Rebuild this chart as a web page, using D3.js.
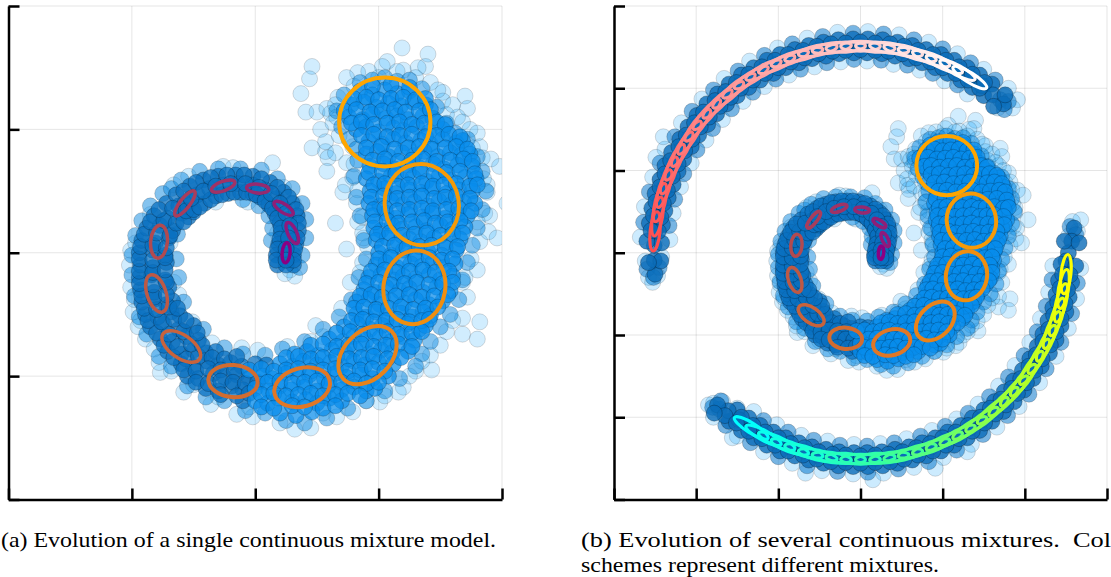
<!DOCTYPE html>
<html>
<head>
<meta charset="utf-8">
<script src="https://cdn.jsdelivr.net/npm/d3@7"></script>
<style>
  body { margin: 0; background: #fff; }
  svg { display: block; }
  .grid line { stroke: #000; stroke-opacity: 0.1; stroke-width: 1; }
  .axis path, .axis line { stroke: #000; stroke-width: 2.5; }
  .pt { stroke: #000; stroke-width: 1; }
  .caption { font-family: "Liberation Serif", serif; font-size: 21px; fill: #000; }
</style>
</head>
<body>
<svg id="chart" width="1111" height="577"></svg>
<script>
// Sample clouds (tick spacing = 1 unit)
const spiralWide = [
  [.85,1.31],[.95,1.28],[1.05,1.32],[1.15,1.29],[1.25,1.31],
  [.78,1.2],[.88,1.22],[.98,1.18],[1.08,1.21],[1.18,1.19],[1.28,1.22],[1.38,1.2],
  [.76,1.1],[.87,1.08],[.95,1.12],[1.06,1.09],[1.15,1.11],[1.24,1.08],[1.36,1.11],[1.44,1.09],
  [.82,1],[.9,1.02],[1,.98],[1.12,1.01],[1.2,.99],[1.31,1.02],[1.41,.98],[1.52,1],
  [.92,.9],[1.03,.88],[1.12,.92],[1.22,.89],[1.34,.91],[1.42,.88],[1.52,.92],[1.63,.89],[1.68,.91],
  [.9,.8],[.99,.82],[1.08,.78],[1.19,.81],[1.29,.79],[1.37,.82],[1.48,.78],[1.58,.81],[1.67,.79],[1.74,.8],
  [.93,.7],[1.04,.72],[1.13,.68],[1.24,.71],[1.33,.69],[1.44,.72],[1.53,.68],[1.64,.71],[1.76,.7],
  [.9,.6],[1,.58],[1.1,.62],[1.19,.59],[1.28,.61],[1.39,.58],[1.49,.62],[1.58,.59],[1.7,.61],[1.79,.6],
  [.93,.5],[1.05,.52],[1.14,.48],[1.25,.51],[1.34,.49],[1.43,.52],[1.55,.48],[1.65,.51],[1.76,.5],
  [.92,.4],[1.01,.38],[1.1,.42],[1.2,.39],[1.29,.41],[1.4,.38],[1.49,.42],[1.59,.39],[1.69,.41],[1.78,.4],
  [.95,.3],[1.06,.32],[1.14,.28],[1.24,.31],[1.35,.29],[1.44,.32],[1.54,.28],[1.64,.31],[1.72,.3],
  [.96,.2],[1.02,.18],[1.11,.22],[1.19,.19],[1.3,.21],[1.39,.18],[1.5,.22],[1.6,.19],[1.7,.21],
  [.98,.1],[1.07,.12],[1.16,.08],[1.25,.11],[1.34,.09],[1.45,.12],[1.54,.08],[1.66,.11],
  [1,0],[1.1,-.02],[1.2,.02],[1.29,-.01],[1.4,.01],[1.51,-.02],[1.63,.02],
  [.98,-.1],[1.06,-.08],[1.15,-.12],[1.26,-.09],[1.35,-.11],[1.44,-.08],[1.53,-.12],[1.62,-.09],
  [.92,-.2],[1.02,-.18],[1.12,-.22],[1.2,-.19],[1.3,-.21],[1.41,-.18],[1.5,-.22],[1.6,-.19],
  [.88,-.3],[.97,-.32],[1.06,-.28],[1.17,-.31],[1.25,-.29],[1.36,-.32],[1.47,-.28],[1.58,-.31],
  [.82,-.4],[.92,-.38],[1.01,-.42],[1.1,-.39],[1.21,-.41],[1.3,-.38],[1.41,-.42],[1.52,-.39],
  [.82,-.5],[.9,-.52],[.98,-.48],[1.07,-.51],[1.18,-.49],[1.27,-.52],[1.36,-.48],[1.42,-.51],
  [.72,-.6],[.83,-.58],[.93,-.62],[1.03,-.59],[1.12,-.61],[1.23,-.58],[1.33,-.62],[1.38,-.59],
  [.6,-.7],[.71,-.72],[.8,-.68],[.9,-.71],[1.01,-.69],[1.1,-.72],[1.19,-.68],[1.29,-.71],
  [.32,-.82],[.42,-.8],[.51,-.83],[.62,-.79],[.73,-.81],[.81,-.78],[.92,-.82],[1.02,-.79],[1.11,-.81],[1.24,-.8],
  [.2,-.9],[.3,-.92],[.39,-.88],[.5,-.91],[.61,-.89],[.7,-.92],[.8,-.88],[.89,-.91],[1,-.89],[1.12,-.9],
  [.06,-1],[.14,-1.02],[.25,-.98],[.35,-1.01],[.44,-.99],[.56,-1.02],[.65,-.98],[.74,-1.01],[.86,-.99],[.95,-1.02],[1.08,-1],
  [0,-1.1],[.11,-1.12],[.2,-1.08],[.29,-1.11],[.4,-1.09],[.5,-1.12],[.59,-1.08],[.7,-1.11],[.8,-1.09],[.9,-1.12],[.97,-1.1],
  [0,-1.2],[.1,-1.22],[.19,-1.18],[.3,-1.21],[.41,-1.19],[.5,-1.22],[.6,-1.18],[.7,-1.2],
  [.2,-1.3],[.33,-1.32],[.46,-1.29],
  [.95,1.35],[1.1,1.36],[1.25,1.34],
  [.8,1.25],[.9,1.26],[1,1.24],[1.1,1.25],[1.2,1.26],[1.3,1.24],[1.38,1.25],
  [.72,1.15],[.82,1.16],[.93,1.14],[1.03,1.15],[1.13,1.16],[1.22,1.14],[1.33,1.15],[1.42,1.16],
  [.78,1.05],[.86,1.06],[.96,1.04],[1.07,1.05],[1.17,1.06],[1.27,1.04],[1.37,1.05],[1.47,1.06],[1.54,1.04],
  [.86,.95],[.96,.96],[1.07,.94],[1.17,.95],[1.27,.96],[1.38,.94],[1.47,.95],[1.57,.96],[1.66,.94],
  [.9,.85],[1.02,.86],[1.13,.84],[1.24,.85],[1.33,.86],[1.43,.84],[1.54,.85],[1.63,.86],[1.72,.84],
  [.95,.75],[1.05,.76],[1.16,.74],[1.27,.75],[1.36,.76],[1.47,.74],[1.58,.75],[1.69,.76],[1.76,.74],
  [.92,.65],[1.03,.66],[1.14,.64],[1.24,.65],[1.34,.66],[1.45,.64],[1.55,.65],[1.66,.66],[1.78,.64],
  [.96,.55],[1.05,.56],[1.15,.54],[1.24,.55],[1.35,.56],[1.44,.54],[1.53,.55],[1.63,.56],[1.74,.54],[1.8,.55],
  [.94,.45],[1.04,.46],[1.15,.44],[1.25,.45],[1.35,.46],[1.45,.44],[1.54,.45],[1.63,.46],[1.74,.44],
  [.96,.35],[1.05,.36],[1.15,.34],[1.25,.35],[1.35,.36],[1.44,.34],[1.55,.35],[1.65,.36],[1.75,.34],
  [.97,.25],[1.07,.26],[1.16,.24],[1.27,.25],[1.37,.26],[1.46,.24],[1.56,.25],[1.66,.26],
  [.99,.15],[1.09,.16],[1.19,.14],[1.29,.15],[1.39,.16],[1.5,.14],[1.6,.15],[1.68,.16],
  [1.03,.05],[1.13,.06],[1.23,.04],[1.33,.05],[1.43,.06],[1.54,.04],[1.64,.05],
  [1,-.05],[1.1,-.04],[1.2,-.06],[1.3,-.05],[1.41,-.04],[1.51,-.06],[1.6,-.05],
  [.94,-.15],[1.05,-.14],[1.15,-.16],[1.25,-.15],[1.36,-.14],[1.46,-.16],[1.57,-.15],
  [.9,-.25],[1,-.24],[1.1,-.26],[1.21,-.25],[1.31,-.24],[1.41,-.26],[1.52,-.25],[1.6,-.24],
  [.85,-.35],[.94,-.34],[1.03,-.36],[1.14,-.35],[1.25,-.34],[1.35,-.36],[1.45,-.35],[1.56,-.34],
  [.8,-.45],[.88,-.44],[.98,-.46],[1.08,-.45],[1.18,-.44],[1.28,-.46],[1.38,-.45],[1.48,-.44],
  [.78,-.55],[.87,-.54],[.96,-.56],[1.06,-.55],[1.15,-.54],[1.25,-.56],[1.35,-.55],[1.41,-.54],
  [.66,-.65],[.77,-.64],[.87,-.66],[.97,-.65],[1.07,-.64],[1.16,-.66],[1.27,-.65],[1.35,-.64],
  [.45,-.75],[.55,-.74],[.66,-.76],[.76,-.75],[.86,-.74],[.96,-.76],[1.06,-.75],[1.16,-.74],[1.27,-.76],
  [.25,-.85],[.35,-.84],[.45,-.86],[.55,-.85],[.66,-.84],[.76,-.86],[.86,-.85],[.96,-.84],[1.07,-.86],[1.18,-.85],
  [-.05,-.95],[.05,-.94],[.15,-.96],[.25,-.95],[.35,-.94],[.45,-.96],[.55,-.95],[.65,-.94],[.75,-.96],[.85,-.95],[.95,-.94],[1.05,-.96],
  [.1,-1.05],[.2,-1.04],[.3,-1.06],[.4,-1.05],[.5,-1.04],[.6,-1.06],[.7,-1.05],[.8,-1.04],[.9,-1.06],[1,-1.05],
  [.05,-1.15],[.15,-1.14],[.25,-1.16],[.35,-1.15],[.45,-1.14],[.55,-1.16],[.65,-1.15],[.75,-1.14],[.85,-1.16],
  [.05,-1.25],[.15,-1.26],[.3,-1.24],[.4,-1.25],[.55,-1.26],[.65,-1.24]
];
const spiralThin = [
  [-.6,-.9],[-.5,-.92],[-.39,-.88],[-.3,-.91],[-.2,-.89],[-.11,-.92],[0,-.9],[.09,-.91],
  [-.55,-1],[-.46,-1.02],[-.34,-.98],[-.25,-1.01],[-.15,-.99],[-.05,-1.02],
  [-.4,-1.1],[-.3,-1.12],[-.19,-1.08],[-.1,-1.11],[-.1,-1.2],
  [-.71,-.8],[-.6,-.82],[-.5,-.79],[-.4,-.81],[-.32,-.8],
  [-.77,-.7],[-.67,-.72],[-.56,-.68],[-.46,-.71],
  [-.85,-.6],[-.74,-.58],[-.62,-.62],[-.5,-.59],
  [-.89,-.5],[-.79,-.52],[-.68,-.48],[-.61,-.51],
  [-.92,-.4],[-.82,-.38],[-.72,-.42],[-.67,-.39],
  [-.93,-.3],[-.82,-.32],[-.7,-.28],[-.94,-.2],[-.84,-.18],[-.73,-.22],
  [-.93,-.1],[-.83,-.12],[-.72,-.08],[-.94,0],[-.83,.02],[-.73,-.02],
  [-.92,.1],[-.81,.08],[-.7,.12],[-.88,.2],[-.77,.22],[-.67,.18],
  [-.82,.3],[-.71,.28],[-.6,.32],[-.54,.29],[-.72,.4],[-.62,.38],[-.52,.42],
  [-.64,.47],[-.53,.54],[-.42,.59],[-.3,.62],[-.16,.63],[-.02,.62],[.12,.57],[.23,.49],[.3,.4],[.34,.3],[.35,.18],[.33,.07],[.31,-.02],[.31,-.1],
  [-.5,.33],[-.41,.4],[-.32,.46],[-.22,.48],[-.12,.49],[-.02,.48],[.04,.45],[.11,.39],[.16,.32],[.2,.24],[.21,.16],[.19,.07],[.17,-.02],[.18,-.1],
  [-.57,.4],[-.47,.47],[-.37,.52],[-.26,.55],[-.14,.56],[-.02,.55],[.08,.51],[.17,.44],[.23,.36],[.27,.27],[.28,.17],[.26,.07],[.24,-.02],[.25,-.1],
  [-.66,-.85],[-.56,-.86],[-.46,-.84],[-.35,-.85],[-.25,-.86],[-.15,-.84],[-.58,-.95],[-.48,-.96],[-.38,-.94],[-.28,-.95],[-.17,-.96],
  [-.48,-1.05],[-.38,-1.06],[-.28,-1.04],[-.18,-1.05],[-.08,-1.06],[.02,-1.05],[-.28,-1.15],[-.15,-1.16],[-.05,-1.14],
  [-.74,-.75],[-.63,-.76],[-.52,-.74],[-.43,-.75],[-.8,-.65],[-.7,-.66],[-.58,-.64],[-.47,-.65],[-.87,-.55],[-.76,-.56],[-.66,-.54],[-.56,-.55],
  [-.9,-.45],[-.8,-.46],[-.7,-.44],[-.63,-.45],[-.92,-.35],[-.82,-.36],[-.72,-.34],[-.94,-.25],[-.83,-.26],[-.72,-.24],[-.94,-.15],[-.83,-.16],[-.73,-.14],
  [-.94,-.05],[-.83,-.06],[-.73,-.04],[-.93,.05],[-.83,.06],[-.72,.04],[-.9,.15],[-.8,.16],[-.69,.14],[-.85,.25],[-.74,.26],[-.64,.24],[-.58,.25],
  [-.78,.35],[-.67,.36],[-.56,.34],[-.5,.35],
  [-.58,.5],[-.48,.57],[-.36,.61],[-.23,.63],[-.09,.63],[.05,.6],[.18,.53],[.27,.45],[.33,.35],[.35,.24],[.34,.12],[.32,.03],[.31,-.06],
  [-.45,.37],[-.36,.43],[-.27,.47],[-.17,.49],[-.07,.49],[.01,.47],[.08,.42],[.14,.36],[.18,.28],[.21,.2],[.2,.11],[.18,.03],[.17,-.06],
  [-.52,.44],[-.42,.5],[-.32,.54],[-.2,.56],[-.08,.56],[.03,.53],[.13,.48],[.2,.4],[.25,.32],[.28,.22],[.27,.12],[.25,.03],[.25,-.06]
];
const spiralShoulder = [
  [.85,1.38],[.95,1.4],[1.05,1.42],[1.15,1.39],[1.25,1.4],[1.35,1.33],[.72,1.28],[.66,1.15],[.7,1.02],[.76,.92],[.82,.84],[.83,.75],
  [1.47,1.18],[1.55,1.05],[1.62,.97],[1.72,.92],[1.8,.78],[1.84,.66],[1.87,.5],[1.84,.35],[1.8,.2],[1.76,.06],[1.72,-.08],[1.68,-.22],[1.65,-.38],[1.58,-.5],[1.5,-.6],[1.42,-.72],[1.35,-.82],[1.3,-.92],
  [1.17,-1.02],[1.05,-1.12],[.9,-1.2],[.75,-1.26],[.58,-1.34],[.4,-1.38],[.25,-1.36],[.08,-1.3],[-.08,-1.28],[-.25,-1.2],[-.4,-1.17],[-.55,-1.08],[-.68,-.92],[-.78,-.84],[-.88,-.66],[-.94,-.52],
  [-.98,-.35],[-1,-.18],[-1,-.02],[-.97,.14],[-.92,.26],[-.85,.38],[-.75,.48],[-.68,.52],[-.6,.59],[-.45,.66],[-.3,.68],[-.12,.68],[.05,.67],[.18,.6],[.3,.52],[.38,.4],[.41,.27],[.41,.12],[.38,-.02],[.36,-.12],
  [.13,.1],[.14,.2],[.11,.3],[.03,.38],[-.1,.43],[-.63,.15],[-.64,-.05],[-.62,-.2],[-.58,-.4],[-.42,-.62],[-.25,-.77],[-.1,-.82],[.08,-.83],[.22,-.78],[.4,-.72],[.55,-.62],[.68,-.52],[.78,-.38],[.84,-.2],[.9,-.05],[.88,.1],[.85,.3],[.82,.45],[.8,.62]
];
const spiralFringe = [
  [.14,.73],[.46,1.51],[.44,1.41],[.37,1.29],[.41,1.14],[.5,1.14],[.58,1.17],[.53,1],[.46,.85],[.57,.82],[.59,.77],[.58,.66],
  [.65,.24],[.74,.03],[.71,.49],[.73,.55],[.83,.25],[1.19,1.66],[1.4,1.61],[1.07,1.55],[1.38,1.51],[1.32,1.5],[1.03,1.51],[1.2,1.48],[1.15,1.47],
  [.92,1.47],[.83,1.46],[.74,1.42],[1.42,1.38],[1.52,1.3],[1.7,1.27],[1.72,1.17],[1.52,1.23],[1.55,1.12],[1.64,1.1],[1.68,1.06],[1.74,1],[1.8,.97],
  [1.76,.85],[1.82,.86],[1.84,.77],[1.91,.76],[1.98,.7],[1.88,.55],[1.88,.49],[1.86,.32],[2.04,.4],[1.82,.09],[1.89,.17],[1.96,.12],
  [.61,1.13],[.63,1.05],[.57,.9],[.65,.81],[.74,.73],[.79,.86],[.67,1.26],[.65,1.2],[.79,.61],[.83,.51],[.87,.29],[.87,.16],[.91,.05],[.87,-.08],
  [1.82,-.56],[1.68,-.66],[1.8,-.7],[1.68,-.53],[1.55,-.64],[1.72,-.36],[1.8,-.14],[1.68,-.24],[1.43,-.95],[1.3,-.96],[1.42,-.83],[1.2,-1.09],[1.16,-1.13],
  [1.01,-1.21],[.79,-1.29],[.66,-1.33],[.45,-1.42],[.32,-1.43],[-.02,-1.33],[-.15,-1.31],[-.36,-1.23],[-.58,-1.13],[-.77,-.97],[-.78,-.89],[-.89,-.7],
  [-.95,-.6],[-.99,-.48],[-1.01,-.28],[-1.02,-.1],[-1.01,.02],[-.62,-.34],[-.66,-.24],[-.51,-.56],[-.35,-.73],[-.11,-.77],[.02,-.79],[.26,-.76],[.49,-.59],[.7,-.45],
  [.77,-.24],[.85,-.16],[.45,-.72],[.55,-.68],[.66,-.65],[-.97,.08],[-.85,.31],[-.66,.55],[-.54,.62],[-.26,.7],[-.18,.69],[-.57,.33],[-.66,.21],[-.69,.08],
  [-.32,.41],[-.06,.41],[.23,.53],[.31,.4],[.18,.16],[.34,.28],[.28,-.14],[.32,-.19],[.24,-.17],
  [1.9,.3],[1.85,.6],[1.8,.25],[1.75,-.05],[1.7,-.2],[1.6,-.55],[1.5,-.75],[1.35,-.88],[1.25,-1],[1.05,-1.16],[.9,-1.2],[.55,-1.3],[.2,-1.38],[-.05,-1.25],
  [-.3,-1.17],[-.5,-1.07],[-.68,-.96],[-.82,-.78],[-.93,-.55],[-.98,-.38],[.8,1.35],[1,1.42],[1.3,1.42],[1.48,1.32],[1.6,1.2],[.66,1.1],[.68,.95],[.8,.72],[.82,.4],[.88,.12]
];
const arcTopCore = [
  [-2.41,.34],[-2.38,.51],[-2.34,.67],[-2.28,.83],[-2.22,.99],[-2.15,1.14],[-2.06,1.29],[-1.97,1.43],[-1.86,1.56],[-1.75,1.69],[-1.63,1.81],[-1.5,1.91],[-1.36,2.01],[-1.22,2.1],[-1.06,2.18],[-.91,2.25],
  [-.75,2.31],[-.59,2.36],[-.42,2.39],[-.26,2.42],[-.08,2.43],[.08,2.43],[.26,2.42],[.42,2.39],[.59,2.36],[.75,2.31],[.91,2.25],[1.06,2.18],[1.22,2.1],[1.36,2.01],[1.5,1.91],
  [-2.57,.36],[-2.54,.54],[-2.5,.72],[-2.44,.89],[-2.38,1.06],[-2.3,1.22],[-2.2,1.38],[-2.1,1.53],[-1.99,1.67],[-1.87,1.81],[-1.74,1.93],[-1.6,2.05],[-1.45,2.16],[-1.3,2.25],[-1.14,2.34],[-.98,2.41],
  [-.8,2.47],[-.63,2.52],[-.45,2.56],[-.27,2.59],[-.09,2.6],[.09,2.6],[.27,2.59],[.45,2.56],[.63,2.52],[.8,2.47],[.98,2.41],[1.14,2.34],[1.3,2.25],[1.45,2.16],[1.6,2.05],
  [-2.5,-.26],[-2.51,-.09],[-2.51,.09],[-2.5,.26],[-2.47,.44],[-2.44,.61],[-2.39,.78],[-2.33,.94],[-2.26,1.1],[-2.17,1.26],[-2.08,1.4],[-1.98,1.55],[-1.87,1.68],[-1.74,1.81],[-1.61,1.92],[-1.48,2.03],
  [-1.33,2.13],[-1.18,2.22],[-1.02,2.29],[-.86,2.36],[-.69,2.41],[-.52,2.46],[-.35,2.49],[-.18,2.5],[0,2.51],[.18,2.5],[.35,2.49],[.52,2.46],[.69,2.41],[.86,2.36],[1.02,2.29],[1.18,2.22],[1.33,2.13],
  [1.48,2.03],[1.61,1.92],[1.74,1.81],[1.62,1.78],[1.76,1.92],[-2.42,.12],[-2.6,.14],[-2.43,-.1],[-2.58,-.12],
  [-2.46,.26],[-2.43,.43],[-2.4,.6],[-2.35,.76],[-2.29,.93],[-2.22,1.08],[-2.14,1.24],[-2.05,1.38],[-1.95,1.53],[-1.84,1.65],[-1.71,1.78],[-1.58,1.89],[-1.46,2],[-1.31,2.1],[-1.16,2.18],[-1,2.25],
  [-.85,2.32],[-.68,2.37],[-.51,2.42],[-.34,2.45],[-.18,2.46],[0,2.47],[.18,2.46],[.34,2.45],[.51,2.42],[.68,2.37],[.85,2.32],[1,2.25],[1.16,2.18],[1.31,2.1],[1.45,2],
  [-2.55,.27],[-2.52,.45],[-2.49,.62],[-2.44,.8],[-2.38,.96],[-2.31,1.12],[-2.21,1.29],[-2.12,1.43],[-2.02,1.58],[-1.91,1.71],[-1.77,1.85],[-1.64,1.96],[-1.51,2.07],[-1.36,2.17],[-1.2,2.26],[-1.04,2.34],
  [-.88,2.41],[-.7,2.46],[-.53,2.51],[-.36,2.54],[-.18,2.55],[0,2.56],[.18,2.55],[.36,2.54],[.53,2.51],[.7,2.46],[.88,2.41],[1.04,2.34],[1.2,2.26],[1.36,2.17],[1.51,2.07]
];
const arcTopShoulder = [
  [-2.33,.33],[-2.26,.65],[-2.15,.96],[-1.99,1.25],[-1.8,1.51],[-1.57,1.75],[-1.31,1.95],[-1.03,2.11],[-.73,2.23],[-.41,2.31],[-.08,2.35],[.25,2.34],[.57,2.28],[.88,2.18],[1.18,2.04],
  [-2.64,.37],[-2.57,.74],[-2.44,1.09],[-2.26,1.41],[-2.05,1.72],[-1.79,1.98],[-1.49,2.21],[-1.17,2.4],[-.83,2.54],[-.46,2.63],[-.09,2.67],[.28,2.66],[.65,2.59],[1,2.48],[1.34,2.31],[1.64,2.1],
  [-2.6,-.2],[-2.45,-.18],[-2.52,-.3],[1.7,1.86],[1.8,1.84],[1.75,1.74]
];
const arcTopFringe = [
  [-2.32,.16],[-2.28,.48],[-2.19,.8],[-2.06,1.09],[-1.88,1.37],[-1.68,1.62],[-1.43,1.84],[-1.17,2.02],[-.87,2.16],[-.56,2.26],[-.24,2.32],[.08,2.33],[.4,2.29],[.72,2.22],[1.02,2.09],[1.3,1.93],
  [-2.68,.19],[-2.63,.56],[-2.53,.92],[-2.38,1.26],[-2.18,1.58],[-1.93,1.87],[-1.66,2.12],[-1.35,2.33],[-1.01,2.49],[-.65,2.61],[-.28,2.68],[.09,2.69],[.47,2.65],[.83,2.56],[1.18,2.42],[1.5,2.23],[1.8,2],
  [-2.4,1.41],[-2.49,1.16],[-2.58,-.3],[-2.47,-.28],[-2.62,-.1],[-2.42,-.05],[-2.53,-.36],[1.75,1.9],[1.91,1.86],[1.85,1.76],[1.67,1.76]
];
const arcLowCore = [
  [2.41,-.34],[2.38,-.51],[2.34,-.67],[2.28,-.83],[2.22,-.99],[2.15,-1.14],[2.06,-1.29],[1.97,-1.43],[1.86,-1.56],[1.75,-1.69],[1.63,-1.81],[1.5,-1.91],[1.36,-2.01],[1.22,-2.1],[1.06,-2.18],[.91,-2.25],
  [.75,-2.31],[.59,-2.36],[.42,-2.39],[.26,-2.42],[.08,-2.43],[-.08,-2.43],[-.26,-2.42],[-.42,-2.39],[-.59,-2.36],[-.75,-2.31],[-.91,-2.25],[-1.06,-2.18],[-1.22,-2.1],[-1.36,-2.01],[-1.5,-1.91],
  [2.57,-.36],[2.54,-.54],[2.5,-.72],[2.44,-.89],[2.38,-1.06],[2.3,-1.22],[2.2,-1.38],[2.1,-1.53],[1.99,-1.67],[1.87,-1.81],[1.74,-1.93],[1.6,-2.05],[1.45,-2.16],[1.3,-2.25],[1.14,-2.34],[.98,-2.41],
  [.8,-2.47],[.63,-2.52],[.45,-2.56],[.27,-2.59],[.09,-2.6],[-.09,-2.6],[-.27,-2.59],[-.45,-2.56],[-.63,-2.52],[-.8,-2.47],[-.98,-2.41],[-1.14,-2.34],[-1.3,-2.25],[-1.45,-2.16],[-1.6,-2.05],
  [2.6,.3],[2.57,.14],[2.53,0],[2.5,-.1],[2.5,-.26],[2.47,-.44],[2.44,-.61],[2.39,-.78],[2.33,-.94],[2.26,-1.1],[2.17,-1.26],[2.08,-1.4],[1.98,-1.55],[1.87,-1.68],[1.74,-1.81],[1.61,-1.92],[1.48,-2.03],
  [1.33,-2.13],[1.18,-2.22],[1.02,-2.29],[.86,-2.36],[.69,-2.41],[.52,-2.46],[.35,-2.49],[.18,-2.5],[0,-2.51],[-.18,-2.5],[-.35,-2.49],[-.52,-2.46],[-.69,-2.41],[-.86,-2.36],[-1.02,-2.29],[-1.18,-2.22],[-1.33,-2.13],
  [-1.48,-2.03],[-1.61,-1.92],[-1.74,-1.85],[-1.65,-1.98],[-1.78,-1.95],[2.44,-.14],[2.62,-.16],[2.48,.14],[2.66,.12],
  [2.46,-.26],[2.43,-.43],[2.4,-.6],[2.35,-.76],[2.29,-.93],[2.22,-1.08],[2.14,-1.24],[2.05,-1.38],[1.95,-1.53],[1.84,-1.65],[1.71,-1.78],[1.58,-1.89],[1.46,-2],[1.31,-2.1],[1.16,-2.18],[1,-2.25],
  [.85,-2.32],[.68,-2.37],[.51,-2.42],[.34,-2.45],[.18,-2.46],[0,-2.47],[-.18,-2.46],[-.34,-2.45],[-.51,-2.42],[-.68,-2.37],[-.85,-2.32],[-1,-2.25],[-1.16,-2.18],[-1.31,-2.1],[-1.45,-2],
  [2.55,-.27],[2.52,-.45],[2.49,-.62],[2.44,-.8],[2.38,-.96],[2.31,-1.12],[2.21,-1.29],[2.12,-1.43],[2.02,-1.58],[1.91,-1.71],[1.77,-1.85],[1.64,-1.96],[1.51,-2.07],[1.36,-2.17],[1.2,-2.26],[1.04,-2.34],
  [.88,-2.41],[.7,-2.46],[.53,-2.51],[.36,-2.54],[.18,-2.55],[0,-2.56],[-.18,-2.55],[-.36,-2.54],[-.53,-2.51],[-.7,-2.46],[-.88,-2.41],[-1.04,-2.34],[-1.2,-2.26],[-1.36,-2.17],[-1.51,-2.07]
];
const arcLowShoulder = [
  [2.33,-.33],[2.26,-.65],[2.15,-.96],[1.99,-1.25],[1.8,-1.51],[1.57,-1.75],[1.31,-1.95],[1.03,-2.11],[.73,-2.23],[.41,-2.31],[.08,-2.35],[-.25,-2.34],[-.57,-2.28],[-.88,-2.18],[-1.18,-2.04],
  [2.64,-.37],[2.57,-.74],[2.44,-1.09],[2.26,-1.41],[2.05,-1.72],[1.79,-1.98],[1.49,-2.21],[1.17,-2.4],[.83,-2.54],[.46,-2.63],[.09,-2.67],[-.28,-2.66],[-.65,-2.59],[-1,-2.48],[-1.34,-2.31],[-1.64,-2.1],
  [2.55,.32],[2.62,.22],[-1.72,-1.9],[-1.8,-1.88],[-1.7,-1.8]
];
const arcLowFringe = [
  [2.34,-.16],[2.29,-.48],[2.19,-.8],[2.06,-1.09],[1.88,-1.37],[1.68,-1.62],[1.43,-1.84],[1.17,-2.02],[.87,-2.16],[.56,-2.26],[.24,-2.32],[-.08,-2.33],[-.4,-2.29],[-.72,-2.22],[-1.02,-2.09],[-1.3,-1.93],
  [2.68,-.19],[2.63,-.56],[2.53,-.92],[2.38,-1.26],[2.18,-1.58],[1.93,-1.87],[1.66,-2.12],[1.35,-2.33],[1.01,-2.49],[.65,-2.61],[.28,-2.68],[-.09,-2.69],[-.47,-2.65],[-.83,-2.56],[-1.18,-2.42],[-1.5,-2.23],
  [-.67,-2.68],[.15,-2.76],[1.3,-2.42],[.91,-2.62],[-1.79,-1.83],[-1.85,-1.85],[-1.68,-1.81],[-1.5,-1.89],[-1.79,-2],[-1.56,-2.25],[2.64,.26],[2.53,.2],[2.68,.4],[2.58,.38]
];

// Mixture ellipses in the inner spiral, tip to head
const spiralCx = [.25,.3,.23,.02,-.26,-.57,-.78,-.8,-.6,-.18,.38,.91,1.29,1.35,1.05];
const spiralCy = [0,.16,.36,.52,.54,.4,.09,-.33,-.76,-1.04,-1.09,-.83,-.28,.39,1.06];
const spiralA = [.081,.093,.09,.09,.1,.125,.134,.158,.18,.2,.23,.275,.3,.33,.37];
const spiralB = [.032,.036,.034,.036,.038,.04,.068,.077,.093,.13,.155,.19,.25,.3,.36];
const spiralTilt = [85,115,-33,-5,20,52,85,108,-35,-5,15,45,80,100,0];
const spiralColors = ['#8b0083','#8f1a7c','#8f1e77','#962a6f','#a03366','#a93d5c','#b14a50','#bd5945','#c8633c','#d26c30','#e07726','#e8831a','#ef8e10','#f59a08','#ffa500'];

// Ribbon of thin ellipses along the two outer arcs
const arcTopCx = [-2.5,-2.47,-2.44,-2.39,-2.33,-2.26,-2.17,-2.08,-1.98,-1.87,-1.74,-1.61,-1.48,-1.33,-1.18,-1.02,-.86,-.69,-.52,-.35,-.18,0,.18,.35,.52,.69,.86,1.02,1.18,1.33];
const arcTopCy = [.26,.44,.61,.78,.94,1.1,1.26,1.4,1.55,1.68,1.81,1.92,2.03,2.13,2.22,2.29,2.36,2.41,2.46,2.49,2.5,2.51,2.5,2.49,2.46,2.41,2.36,2.29,2.22,2.13];
const arcTopTilt = [84,80,76,72,68,64,60,56,52,48,44,40,36,32,28,24,20,16,12,8,4,0,-4,-8,-12,-16,-20,-24,-28,-32];
const arcLowCx = [-1.33,-1.18,-1.02,-.86,-.69,-.52,-.35,-.18,0,.18,.35,.52,.69,.86,1.02,1.18,1.33,1.48,1.61,1.74,1.87,1.98,2.08,2.17,2.26,2.33,2.39,2.44,2.47,2.5];
const arcLowCy = [-2.13,-2.22,-2.29,-2.36,-2.41,-2.46,-2.49,-2.5,-2.51,-2.5,-2.49,-2.46,-2.41,-2.36,-2.29,-2.22,-2.13,-2.03,-1.92,-1.81,-1.68,-1.55,-1.4,-1.26,-1.1,-.94,-.78,-.61,-.44,-.26];
const arcLowTilt = [-32,-28,-24,-20,-16,-12,-8,-4,0,4,8,12,16,20,24,28,32,36,40,44,48,52,56,60,64,68,72,76,80,84];
const arcA = .24;
const arcB = .06;
const arcTopColors = ['#ff4d4d','#ff8a8a','#ffc4c4','#ffffff'];
const arcLowColors = ['#00ffff','#35ffa0','#a0ff35','#ffff00'];

const captionA = '(a) Evolution of a single continuous mixture model.';
const captionB1 = '(b) Evolution of several continuous mixtures.  Color';
const captionB2 = 'schemes represent different mixtures.';

class MixturePanel {

  /**
   * @param {Object} _config  ranges, domain and tick values of the panel
   */
  constructor(_config) {
    this.config = _config;
    this.initVis();
  }

  initVis() {
    let vis = this;
    const c = vis.config;

    vis.xScale = d3.scaleLinear().domain(c.domain).range(c.xRange);
    vis.yScale = d3.scaleLinear().domain(c.domain).range(c.yRange);
    vis.unit = vis.xScale(1) - vis.xScale(0);

    vis.svg = d3.select('#chart');

    vis.svg.append('clipPath').attr('id', c.id)
        .append('rect')
        .attr('x', c.xRange[0]).attr('y', c.yRange[1])
        .attr('width', c.xRange[1] - c.xRange[0])
        .attr('height', c.yRange[0] - c.yRange[1]);

    // Grid first, axes go on top at the end
    const grid = vis.svg.append('g').attr('class', 'grid');
    grid.selectAll('.gx').data(c.ticks).join('line')
        .attr('class', 'gx')
        .attr('x1', d => vis.xScale(d)).attr('x2', d => vis.xScale(d))
        .attr('y1', c.yRange[0]).attr('y2', c.yRange[1]);
    grid.selectAll('.gy').data(c.ticks).join('line')
        .attr('class', 'gy')
        .attr('y1', d => vis.yScale(d)).attr('y2', d => vis.yScale(d))
        .attr('x1', c.xRange[0]).attr('x2', c.xRange[1]);

    vis.plot = vis.svg.append('g').attr('clip-path', `url(#${c.id})`);
  }

  drawPoints(points, fill, fillOpacity, strokeOpacity) {
    let vis = this;
    vis.plot.append('g').selectAll('circle')
        .data(points)
        .join('circle')
        .attr('class', 'pt')
        .attr('cx', d => vis.xScale(d[0]))
        .attr('cy', d => vis.yScale(d[1]))
        .attr('r', 8)
        .attr('fill', fill)
        .attr('fill-opacity', fillOpacity)
        .attr('stroke-opacity', strokeOpacity);
  }

  drawEllipses(cx, cy, a, b, tilt, color, width) {
    let vis = this;
    vis.plot.append('g').selectAll('ellipse')
        .data(d3.range(cx.length))
        .join('ellipse')
        .attr('transform', i => `translate(${vis.xScale(cx[i])},${vis.yScale(cy[i])}) rotate(${-tilt[i]})`)
        .attr('rx', i => a[i] * vis.unit)
        .attr('ry', i => b[i] * vis.unit)
        .attr('fill', 'none')
        .attr('stroke', i => color(i))
        .attr('stroke-width', width);
  }

  drawSpiral() {
    let vis = this;
    vis.drawPoints(spiralFringe, '#009afa', 0.18, 0.14);
    vis.drawPoints(spiralShoulder, '#0a88e0', 0.5, 0.16);
    vis.drawPoints(spiralThin, '#0a70c0', 0.75, 0.22);
    vis.drawPoints(spiralWide, '#078ceb', 0.72, 0.2);
    vis.drawEllipses(spiralCx, spiralCy, spiralA, spiralB, spiralTilt,
        i => spiralColors[i], i => i > 8 ? 4 : 3.5);
  }

  drawAxes() {
    let vis = this;
    const c = vis.config;
    const xAxis = d3.axisBottom(vis.xScale).tickValues(c.ticks).tickFormat('').tickSizeInner(-11).tickSizeOuter(0);
    const yAxis = d3.axisLeft(vis.yScale).tickValues(c.ticks).tickFormat('').tickSizeInner(-11).tickSizeOuter(0);
    vis.svg.append('g').attr('class', 'axis')
        .attr('transform', `translate(0,${c.yRange[0]})`).call(xAxis);
    vis.svg.append('g').attr('class', 'axis')
        .attr('transform', `translate(${c.xRange[0]},0)`).call(yAxis);
  }
}

const panelA = new MixturePanel({
  id: 'clip-a', domain: [-2, 2], ticks: [-2, -1, 0, 1, 2],
  xRange: [8.5, 502], yRange: [499.5, 6]
});
panelA.drawSpiral();
panelA.drawAxes();

const panelB = new MixturePanel({
  id: 'clip-b', domain: [-3, 3], ticks: [-3, -2, -1, 0, 1, 2, 3],
  xRange: [614, 1107], yRange: [499.5, 6]
});
panelB.drawPoints(arcTopFringe, '#009afa', 0.2, 0.14);
panelB.drawPoints(arcLowFringe, '#009afa', 0.2, 0.14);
panelB.drawPoints(arcTopShoulder, '#0a78cc', 0.55, 0.18);
panelB.drawPoints(arcLowShoulder, '#0a78cc', 0.55, 0.18);
panelB.drawPoints(arcTopCore, '#0a6cb8', 0.8, 0.25);
panelB.drawPoints(arcLowCore, '#0a6cb8', 0.8, 0.25);
panelB.drawSpiral();

const topColor = d3.scaleLinear().domain([0, 10, 20, 29]).range(arcTopColors);
const lowColor = d3.scaleLinear().domain([0, 10, 20, 29]).range(arcLowColors);
const sizes = n => d3.range(n).map(() => arcA);
const thin = n => d3.range(n).map(() => arcB);
panelB.drawEllipses(arcTopCx, arcTopCy, sizes(30), thin(30), arcTopTilt, topColor, 3.2);
panelB.drawEllipses(arcLowCx, arcLowCy, sizes(30), thin(30), arcLowTilt, lowColor, 3.2);
panelB.drawAxes();

const svg = d3.select('#chart');
const captionStyle = (sel, length) => sel.attr('class', 'caption').attr('xml:space', 'preserve')
    .attr('textLength', length).attr('lengthAdjust', 'spacingAndGlyphs');
svg.append('text').call(captionStyle, 495).attr('x', 1).attr('y', 547).text(captionA);
svg.append('text').call(captionStyle, 552).attr('x', 581).attr('y', 547).text(captionB1);
svg.append('text').call(captionStyle, 358).attr('x', 581).attr('y', 572).text(captionB2);
</script>
</body>
</html>
